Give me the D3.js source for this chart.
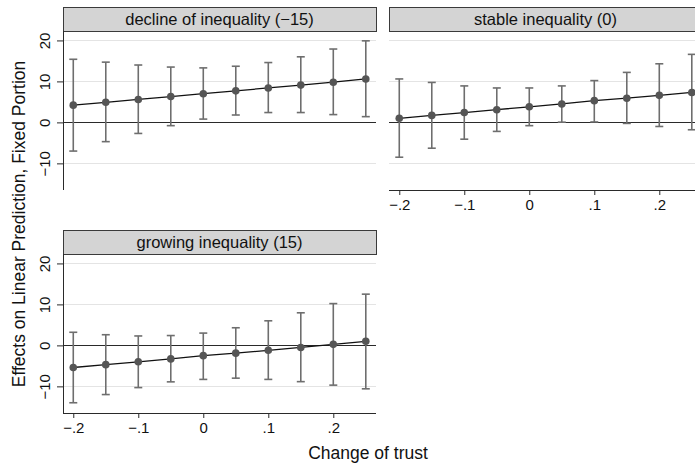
<!DOCTYPE html>
<html>
<head>
  <script src="https://cdn.jsdelivr.net/npm/d3@7"></script>
  <style>
    body { margin: 0; background: #fff; }
    svg { font-family: "Liberation Sans", Arial, sans-serif; display: block; }
  </style>
</head>
<body>
  <svg id="chart" width="695" height="464"></svg>
  <script>
  // values
  const trust = [-0.2, -0.15, -0.1, -0.05, 0, 0.05, 0.1, 0.15, 0.2, 0.25];
  const panelTitles = ["decline of inequality (\u221215)", "stable inequality (0)", "growing inequality (15)"];
  const xTicks = [-0.2, -0.1, 0, 0.1, 0.2];
  const yTicks = [-10, 0, 10, 20];

  const estDecline = [4.2, 4.9, 5.6, 6.3, 7.0, 7.7, 8.4, 9.1, 9.8, 10.6];
  const loDecline  = [-7.0, -4.7, -2.7, -0.8, 0.8, 1.8, 2.4, 2.4, 1.9, 1.4];
  const hiDecline  = [15.4, 14.7, 14.0, 13.5, 13.3, 13.7, 14.6, 16.0, 17.9, 19.9];

  const estStable = [1.0, 1.7, 2.4, 3.1, 3.8, 4.5, 5.3, 5.9, 6.6, 7.3];
  const loStable  = [-8.5, -6.3, -4.1, -2.2, -0.8, 0.05, 0.1, -0.25, -1.0, -1.8];
  const hiStable  = [10.6, 9.75, 8.9, 8.4, 8.4, 8.9, 10.2, 12.2, 14.3, 16.6];

  const estGrowing = [-5.4, -4.7, -4.0, -3.3, -2.5, -1.9, -1.2, -0.5, 0.25, 1.0];
  const loGrowing  = [-14.0, -12.0, -10.3, -8.9, -8.3, -8.0, -8.3, -8.85, -9.7, -10.6];
  const hiGrowing  = [3.2, 2.6, 2.3, 2.4, 3.0, 4.3, 6.0, 7.95, 10.2, 12.5];

  const series = [
    { est: estDecline, lo: loDecline, hi: hiDecline },
    { est: estStable, lo: loStable, hi: hiStable },
    { est: estGrowing, lo: loGrowing, hi: hiGrowing }
  ];

  // panel placement
  const pw = 313, ph = 159, stripH = 24;
  const panels = [
    { left: 63, top: 31, yAxis: true, xAxis: false },
    { left: 389, top: 31, yAxis: false, xAxis: true },
    { left: 63, top: 254, yAxis: true, xAxis: true }
  ];

  const fmtX = d => d === 0 ? "0" : (d < 0 ? "\u2212" : "") + String(Math.abs(d)).replace(/^0/, "");
  const fmtY = d => (d < 0 ? "\u2212" : "") + Math.abs(d);

  const x = d3.scaleLinear().domain([-0.2158, 0.2657]).range([0, pw]);
  const y = d3.scaleLinear().domain([-16.5, 22.3]).range([ph, 0]);

  const svg = d3.select("#chart");

  panels.forEach((p, i) => {
    const s = series[i];
    const g = svg.append("g").attr("transform", `translate(${p.left},${p.top})`);

    // strip header
    g.append("rect")
      .attr("x", 0.5).attr("y", -stripH + 0.5)
      .attr("width", pw).attr("height", stripH)
      .attr("fill", "#d4d4d4").attr("stroke", "#3a3a3a").attr("stroke-width", 1);
    g.append("text")
      .attr("x", pw / 2).attr("y", -6.5)
      .attr("text-anchor", "middle")
      .attr("font-size", 16.5).attr("fill", "#111")
      .text(panelTitles[i]);

    // grid
    g.selectAll(".grid").data(yTicks.filter(d => d !== 0)).join("line")
      .attr("x1", 0).attr("x2", pw)
      .attr("y1", d => Math.round(y(d)) + 0.5).attr("y2", d => Math.round(y(d)) + 0.5)
      .attr("stroke", "#e4e4e4").attr("stroke-width", 1);

    // zero reference line
    g.append("line")
      .attr("x1", 0).attr("x2", pw)
      .attr("y1", Math.round(y(0)) + 0.5).attr("y2", Math.round(y(0)) + 0.5)
      .attr("stroke", "#2a2a2a").attr("stroke-width", 1.2);

    // y axis
    if (p.yAxis) {
      const ya = g.append("g").call(d3.axisLeft(y).tickValues(yTicks).tickSize(6).tickPadding(6).tickFormat(fmtY));
      ya.select(".domain").attr("stroke", "#2a2a2a").attr("d", `M0.5,0V${ph}`);
      ya.selectAll(".tick line").attr("stroke", "#2a2a2a");
      ya.selectAll(".tick text")
        .attr("font-size", 15).attr("fill", "#111")
        .attr("x", null).attr("dy", null)
        .attr("text-anchor", "middle")
        .attr("transform", "translate(-13,0) rotate(-90)");
    }

    // x axis
    if (p.xAxis) {
      const xa = g.append("g").attr("transform", `translate(0,${ph})`)
        .call(d3.axisBottom(x).tickValues(xTicks).tickSize(5).tickPadding(5).tickFormat(fmtX));
      xa.select(".domain").attr("stroke", "#2a2a2a").attr("d", `M0,0.5H${pw}`);
      xa.selectAll(".tick line").attr("stroke", "#2a2a2a");
      xa.selectAll(".tick text").attr("font-size", 15).attr("fill", "#111")
        .attr("dy", null).attr("y", 20);
    }

    const pts = trust.map((t, k) => ({ t, est: s.est[k], lo: s.lo[k], hi: s.hi[k] }));

    // confidence intervals
    const ci = g.append("g").attr("stroke", "#6e6e6e").attr("stroke-width", 1.6).attr("fill", "none");
    ci.selectAll(".v").data(pts).join("line")
      .attr("x1", d => x(d.t)).attr("x2", d => x(d.t))
      .attr("y1", d => y(d.lo)).attr("y2", d => y(d.hi));
    ci.selectAll(".c1").data(pts).join("line")
      .attr("x1", d => x(d.t) - 4).attr("x2", d => x(d.t) + 4)
      .attr("y1", d => y(d.lo)).attr("y2", d => y(d.lo));
    ci.selectAll(".c2").data(pts).join("line")
      .attr("x1", d => x(d.t) - 4).attr("x2", d => x(d.t) + 4)
      .attr("y1", d => y(d.hi)).attr("y2", d => y(d.hi));

    // fitted line
    g.append("path").datum(pts)
      .attr("fill", "none").attr("stroke", "#111").attr("stroke-width", 1.3)
      .attr("d", d3.line().x(d => x(d.t)).y(d => y(d.est)));

    // markers
    g.selectAll(".pt").data(pts).join("circle")
      .attr("cx", d => x(d.t)).attr("cy", d => y(d.est)).attr("r", 3.8)
      .attr("fill", "#555");
  });

  // axis titles
  svg.append("text")
    .attr("transform", "translate(25,224) rotate(-90)")
    .attr("text-anchor", "middle").attr("font-size", 17.5).attr("fill", "#111")
    .text("Effects on Linear Prediction, Fixed Portion");
  svg.append("text")
    .attr("x", 368).attr("y", 459)
    .attr("text-anchor", "middle").attr("font-size", 17.5).attr("fill", "#111")
    .text("Change of trust");
  </script>
</body>
</html>
